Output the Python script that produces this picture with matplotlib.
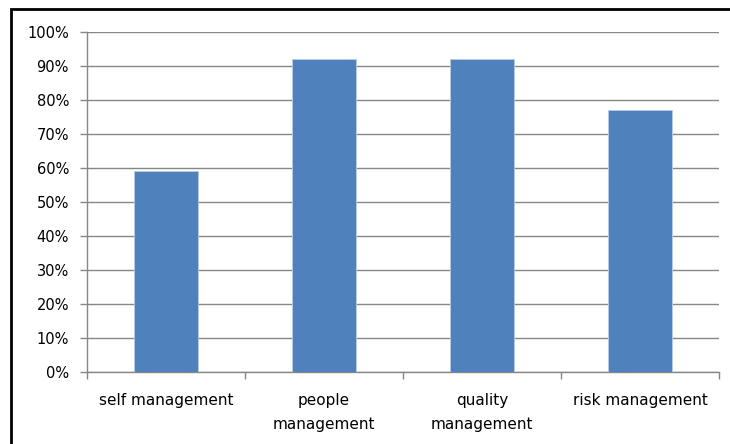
import matplotlib
matplotlib.use('Agg')
import matplotlib.pyplot as plt
from matplotlib.patches import Rectangle
from matplotlib.ticker import PercentFormatter

categories = ['self management', 'people\nmanagement', 'quality\nmanagement', 'risk management']
values = [59, 92, 92, 77]
yticks = [0, 10, 20, 30, 40, 50, 60, 70, 80, 90, 100]

bar_color = '#4F81BD'
grid_color = '#878787'

plt.rcParams['font.family'] = ['DejaVu Sans']

fig = plt.figure(figsize=(7.3, 4.44), dpi=100)
ax = fig.add_axes([87/730, 1 - 372/444, (719 - 87)/730, (372 - 32)/444])

x = list(range(len(categories)))
ax.bar(x, values, width=0.4, color=bar_color, edgecolor='#B9CDE5', linewidth=0.6, zorder=3)

ax.set_xlim(-0.5, len(categories) - 0.5)
ax.set_ylim(0, 100)
ax.set_yticks(yticks)
ax.yaxis.set_major_formatter(PercentFormatter(decimals=0))
ax.yaxis.grid(True, color=grid_color, linewidth=1.0, zorder=0)

# category ticks sit on the boundaries, labels at centres
ax.set_xticks([i - 0.5 for i in range(len(categories) + 1)])
ax.set_xticklabels([])
ax.set_xticks(x, minor=True)
ax.set_xticklabels(categories, minor=True, fontsize=11, linespacing=1.75, va='top')
ax.tick_params(axis='x', which='minor', length=0, pad=15)
ax.tick_params(axis='x', which='major', length=5, color=grid_color, width=1)
ax.tick_params(axis='y', length=5, color=grid_color, width=1, labelsize=10.5, pad=8)

for side in ['top', 'right']:
    ax.spines[side].set_visible(False)
for side in ['left', 'bottom']:
    ax.spines[side].set_color(grid_color)
    ax.spines[side].set_linewidth(1.0)

# outer chart border (only left and top are inside the crop)
fig.patches.append(Rectangle((11/730, -0.2), 1.2, 1 - 9/444 + 0.2,
                             transform=fig.transFigure, fill=False,
                             edgecolor='black', linewidth=2))

fig.savefig('out.png', dpi=100)
